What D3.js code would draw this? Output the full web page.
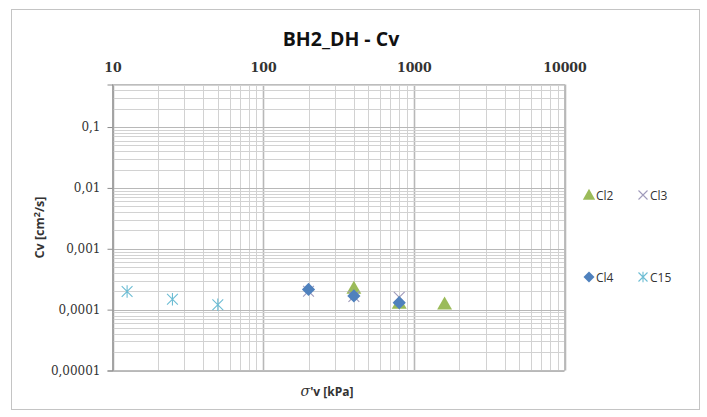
<!DOCTYPE html>
<html>
<head>
<meta charset="utf-8">
<script src="https://cdn.jsdelivr.net/npm/d3@7"></script>
<style>
  html, body { margin: 0; padding: 0; background: #fff; }
  svg { display: block; }
</style>
</head>
<body>
<svg id="chart" width="707" height="417"></svg>
<script>
// Consolidation coefficient Cv against effective vertical stress, per sample
const seriesNames = ["Cl2", "Cl3", "Cl4", "C15"];
const cl2Stress = [400, 800, 1600];
const cl2Cv = [0.000225, 0.000128, 0.000124];
const cl3Stress = [200, 400, 800];
const cl3Cv = [0.000200, 0.000165, 0.000160];
const cl4Stress = [200, 400, 800];
const cl4Cv = [0.000215, 0.000168, 0.000130];
const c15Stress = [12.5, 25, 50];
const c15Cv = [0.000198, 0.000148, 0.000120];

const xTickValues = [10, 100, 1000, 10000];
const xTickLabels = ["10", "100", "1000", "10000"];
const yTickValues = [0.1, 0.01, 0.001, 0.0001, 0.00001];
const yTickLabels = ["0,1", "0,01", "0,001", "0,0001", "0,00001"];

const svg = d3.select("#chart");
const plot = { left: 112.5, right: 564.5, top: 84.5, bottom: 370.5 };

// outer chart frame
svg.append("rect")
  .attr("x", 11.5).attr("y", 9.5)
  .attr("width", 688).attr("height", 400)
  .attr("fill", "#fff").attr("stroke", "#c4c4c4").attr("stroke-width", 1);

const x = d3.scaleLog().domain([10, 10000]).range([plot.left, plot.right]);
const y = d3.scaleLog().domain([0.00001, 0.5]).range([plot.bottom, plot.top]);

// grid: every integer multiple within each decade
function logGrid(lo, hi) {
  const out = [];
  for (let e = Math.floor(Math.log10(lo)); e <= Math.ceil(Math.log10(hi)); e++) {
    for (let m = 1; m <= 9; m++) {
      const v = m * Math.pow(10, e);
      if (v >= lo * 0.9999 && v <= hi * 1.0001) out.push({ v, major: m === 1 });
    }
  }
  return out;
}

const grid = svg.append("g");
grid.selectAll("line.v").data(logGrid(10, 10000)).join("line")
  .attr("x1", d => Math.round(x(d.v)) + 0.5).attr("x2", d => Math.round(x(d.v)) + 0.5)
  .attr("y1", plot.top).attr("y2", plot.bottom)
  .attr("stroke", d => d.major ? "#b8b8b8" : "#d2d2d2")
  .attr("stroke-width", d => d.major ? 1.6 : 1);
grid.selectAll("line.h").data(logGrid(0.00001, 0.5)).join("line")
  .attr("y1", d => Math.round(y(d.v)) + 0.5).attr("y2", d => Math.round(y(d.v)) + 0.5)
  .attr("x1", plot.left).attr("x2", plot.right)
  .attr("stroke", d => d.major ? "#b8b8b8" : "#d2d2d2")
  .attr("stroke-width", 1);

// plot area border
svg.append("rect")
  .attr("x", plot.left).attr("y", plot.top)
  .attr("width", plot.right - plot.left).attr("height", plot.bottom - plot.top)
  .attr("fill", "none").attr("stroke", "#bdbdbd").attr("stroke-width", 1);

// left axis with outward ticks
const yAxis = d3.axisLeft(y).tickValues(yTickValues)
  .tickFormat((d, i) => yTickLabels[i]).tickSize(5).tickPadding(7);
const yg = svg.append("g").attr("transform", `translate(${plot.left},0)`).call(yAxis);
yg.select(".domain").attr("stroke", "#8c8c8c");
yg.selectAll(".tick line").attr("stroke", "#8c8c8c");
yg.selectAll(".tick text")
  .attr("font-family", "'DejaVu Serif', 'Liberation Serif', serif")
  .attr("font-size", 12).attr("fill", "#333");

// top axis labels
const xg = svg.append("g").attr("transform", `translate(0,${plot.top})`)
  .call(d3.axisTop(x).tickValues(xTickValues).tickFormat((d, i) => xTickLabels[i])
    .tickSize(0).tickPadding(13));
xg.select(".domain").remove();
xg.selectAll(".tick text")
  .attr("font-family", "'DejaVu Serif', 'Liberation Serif', serif")
  .attr("font-size", 12.5).attr("font-weight", "bold").attr("fill", "#333");

// title
svg.append("text").attr("x", 341).attr("y", 46)
  .attr("text-anchor", "middle")
  .attr("font-family", "'Open Sans', 'Liberation Sans', sans-serif")
  .attr("font-weight", "bold").attr("font-size", 19.5).attr("fill", "#111")
  .text("BH2_DH - Cv");

// y axis title
const yt = svg.append("text")
  .attr("transform", `translate(44,${(plot.top + plot.bottom) / 2}) rotate(-90)`)
  .attr("text-anchor", "middle")
  .attr("font-family", "'Open Sans', 'Liberation Sans', sans-serif")
  .attr("font-weight", "bold").attr("font-size", 12.5).attr("fill", "#333");
yt.append("tspan").text("Cv [cm");
yt.append("tspan").attr("dy", -4).attr("font-size", 9).text("2");
yt.append("tspan").attr("dy", 4).text("/s]");

// x axis title
const xt = svg.append("text").attr("x", 327).attr("y", 396)
  .attr("text-anchor", "middle")
  .attr("font-family", "'Open Sans', 'Liberation Sans', sans-serif")
  .attr("font-weight", "bold").attr("font-size", 12).attr("fill", "#333");
xt.append("tspan").attr("font-family", "'DejaVu Serif', serif").attr("font-style", "italic")
  .attr("font-weight", "normal").attr("font-size", 14).text("σ");
xt.append("tspan").text("'v [kPa]");

// marker painters
const colors = { Cl2: "#9bbb59", Cl3: "#a09bbb", Cl4: "#4f81bd", C15: "#6dbdd4" };
function drawMarker(g, name, cx, cy, s) {
  if (name === "Cl2") {
    const r = s * 0.62;
    g.append("path")
      .attr("d", `M${cx},${cy - r} L${cx + r},${cy + r * 0.75} L${cx - r},${cy + r * 0.75} Z`)
      .attr("fill", colors.Cl2);
  } else if (name === "Cl3") {
    const r = s * 0.45;
    g.append("path")
      .attr("d", `M${cx - r},${cy - r} L${cx + r},${cy + r} M${cx - r},${cy + r} L${cx + r},${cy - r}`)
      .attr("stroke", colors.Cl3).attr("stroke-width", 1.1).attr("fill", "none");
  } else if (name === "Cl4") {
    const r = s * 0.55;
    g.append("path")
      .attr("d", `M${cx},${cy - r} L${cx + r},${cy} L${cx},${cy + r} L${cx - r},${cy} Z`)
      .attr("fill", colors.Cl4);
  } else {
    const r = s * 0.45;
    g.append("path")
      .attr("d", `M${cx - r},${cy - r} L${cx + r},${cy + r} M${cx - r},${cy + r} L${cx + r},${cy - r} M${cx},${cy - r * 1.15} L${cx},${cy + r * 1.15}`)
      .attr("stroke", colors.C15).attr("stroke-width", 1.1).attr("fill", "none");
  }
}

const series = [
  { name: "Cl2", xs: cl2Stress, ys: cl2Cv },
  { name: "Cl3", xs: cl3Stress, ys: cl3Cv },
  { name: "Cl4", xs: cl4Stress, ys: cl4Cv },
  { name: "C15", xs: c15Stress, ys: c15Cv }
];
const marks = svg.append("g");
series.forEach(s => {
  s.xs.forEach((v, i) => drawMarker(marks, s.name, x(v), y(s.ys[i]), 12));
});

// legend
const legendPos = [
  { name: seriesNames[0], mx: 589, my: 195 },
  { name: seriesNames[1], mx: 643, my: 195 },
  { name: seriesNames[2], mx: 589, my: 277 },
  { name: seriesNames[3], mx: 643, my: 277 }
];
const lg = svg.append("g");
legendPos.forEach(p => {
  drawMarker(lg, p.name, p.mx, p.my, 10);
  lg.append("text").attr("x", p.mx + 7).attr("y", p.my + 4.5)
    .attr("font-family", "'Open Sans', 'Liberation Sans', sans-serif")
    .attr("font-size", 12).attr("fill", "#333")
    .text(p.name);
});
</script>
</body>
</html>
